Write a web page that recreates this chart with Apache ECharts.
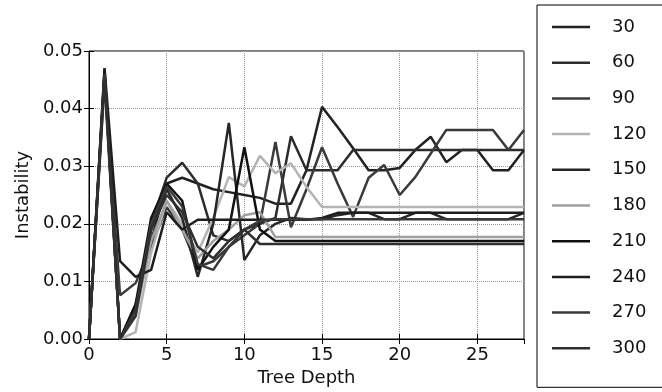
<!DOCTYPE html>
<html lang="en">

<head>
  <meta charset="UTF-8">
  <title>Instability vs Tree Depth</title>
</head>

<body style="margin:0; background:#fff;">

  <div id="main" style="width: 662px; height:392px;"></div>
  <script src="https://cdn.jsdelivr.net/npm/echarts@6/dist/echarts.min.js"></script>
  <script type="text/javascript">
    // depth 0..28
    var depths = [];
    for (var d = 0; d <= 28; d++) depths.push(d);

    var legendNames = ['30', '60', '90', '120', '150', '180', '210', '240', '270', '300'];
    var lineColors = ['#222', '#2c2c2c', '#3a3a3a', '#b4b4b4', '#262626', '#a0a0a0', '#111', '#1e1e1e', '#383838', '#303030'];

    var yTicks = [0, 0.01, 0.02, 0.03, 0.04, 0.05];

    var s30 = [0, 0.046, 0, 0.006, 0.017, 0.027, 0.028, 0.027, 0.026, 0.0255, 0.025, 0.0245, 0.0235, 0.0235, 0.0293, 0.0403, 0.0368, 0.0331, 0.0293, 0.0293, 0.0297, 0.0328, 0.0351, 0.0307, 0.0328, 0.0328, 0.0293, 0.0293, 0.0328];
    var s60 = [0, 0.047, 0, 0.005, 0.020, 0.028, 0.0306, 0.027, 0.018, 0.017, 0.019, 0.020, 0.021, 0.0352, 0.0293, 0.0293, 0.0293, 0.0328, 0.0328, 0.0328, 0.0328, 0.0328, 0.0328, 0.0328, 0.0328, 0.0328, 0.0328, 0.0328, 0.0328];
    var s90 = [0, 0.045, 0.0076, 0.0097, 0.016, 0.0229, 0.019, 0.0125, 0.0135, 0.016, 0.018, 0.020, 0.0342, 0.0194, 0.026, 0.0333, 0.027, 0.0212, 0.028, 0.0302, 0.025, 0.0281, 0.0322, 0.0363, 0.0363, 0.0363, 0.0363, 0.0328, 0.0363];
    var s120 = [0, 0.044, 0, 0.0012, 0.015, 0.024, 0.020, 0.015, 0.021, 0.0281, 0.0265, 0.0318, 0.0288, 0.0305, 0.0264, 0.0229, 0.0229, 0.0229, 0.0229, 0.0229, 0.0229, 0.0229, 0.0229, 0.0229, 0.0229, 0.0229, 0.0229, 0.0229, 0.0229];
    var s150 = [0, 0.046, 0, 0.005, 0.019, 0.026, 0.021, 0.0108, 0.020, 0.0375, 0.0137, 0.018, 0.020, 0.021, 0.0208, 0.0208, 0.0215, 0.0219, 0.0219, 0.0208, 0.0208, 0.0219, 0.0219, 0.0208, 0.0208, 0.0208, 0.0208, 0.0208, 0.0219];
    var s180 = [0, 0.045, 0, 0.004, 0.017, 0.024, 0.019, 0.014, 0.017, 0.019, 0.0215, 0.022, 0.0177, 0.0177, 0.0177, 0.0177, 0.0177, 0.0177, 0.0177, 0.0177, 0.0177, 0.0177, 0.0177, 0.0177, 0.0177, 0.0177, 0.0177, 0.0177, 0.0177];
    var s210 = [0, 0.046, 0, 0.006, 0.021, 0.027, 0.024, 0.012, 0.016, 0.019, 0.0333, 0.019, 0.017, 0.017, 0.017, 0.017, 0.017, 0.017, 0.017, 0.017, 0.017, 0.017, 0.017, 0.017, 0.017, 0.017, 0.017, 0.017, 0.017];
    var s240 = [0, 0.047, 0.0135, 0.0108, 0.012, 0.022, 0.019, 0.0207, 0.0207, 0.0207, 0.0207, 0.0207, 0.0207, 0.0207, 0.0207, 0.021, 0.0219, 0.0219, 0.0219, 0.0219, 0.0219, 0.0219, 0.0219, 0.0219, 0.0219, 0.0219, 0.0219, 0.0219, 0.0219];
    var s270 = [0, 0.046, 0, 0.005, 0.020, 0.0265, 0.023, 0.013, 0.012, 0.016, 0.019, 0.0205, 0.0208, 0.0208, 0.0208, 0.0208, 0.0208, 0.0208, 0.0208, 0.0208, 0.0208, 0.0208, 0.0208, 0.0208, 0.0208, 0.0208, 0.0208, 0.0208, 0.0208];
    var s300 = [0, 0.045, 0, 0.004, 0.019, 0.025, 0.022, 0.016, 0.014, 0.017, 0.019, 0.0165, 0.0165, 0.0165, 0.0165, 0.0165, 0.0165, 0.0165, 0.0165, 0.0165, 0.0165, 0.0165, 0.0165, 0.0165, 0.0165, 0.0165, 0.0165, 0.0165, 0.0165];

    var allSeries = [s30, s60, s90, s120, s150, s180, s210, s240, s270, s300];

    var myChart = echarts.init(document.getElementById('main'));

    var font = 'DejaVu Sans';

    var series = allSeries.map(function (vals, i) {
      return {
        name: legendNames[i],
        type: 'line',
        xAxisIndex: 0,
        yAxisIndex: 0,
        showSymbol: false,
        animation: false,
        color: lineColors[i],
        lineStyle: { width: 2.5, color: lineColors[i] },
        data: vals.map(function (v, j) { return [depths[j], v]; })
      };
    });

    option = {
      animation: false,
      grid: {
        left: 89, right: 138, top: 51, bottom: 53,
        show: true, borderColor: '#000', borderWidth: 1
      },
      legend: {
        orient: 'vertical',
        left: 537,
        top: 5,
        data: legendNames,
        icon: 'rect',
        itemWidth: 38,
        itemHeight: 2.5,
        itemGap: 15.7,
        padding: [12, 60, 29, 15],
        borderColor: '#000',
        borderWidth: 1,
        textStyle: { fontFamily: font, fontSize: 18, color: '#111', lineHeight: 20, padding: [0, 0, 0, 17] }
      },
      xAxis: [{
        type: 'value',
        min: 0, max: 28, interval: 5,
        name: 'Tree Depth',
        nameLocation: 'middle',
        nameGap: 28,
        nameTextStyle: { fontFamily: font, fontSize: 18, color: '#111' },
        axisLine: { show: true, lineStyle: { color: '#000' } },
        axisTick: { inside: true, length: 5, lineStyle: { color: '#000' } },
        axisLabel: { showMaxLabel: false, fontFamily: font, fontSize: 18, color: '#111', margin: 7 },
        splitLine: { show: true, lineStyle: { type: 'dotted', color: '#999' } }
      }, {
        type: 'value',
        position: 'top',
        min: 0, max: 28, interval: 5,
        axisLine: { show: false },
        axisTick: { inside: true, length: 5, lineStyle: { color: '#000' } },
        axisLabel: { show: false },
        splitLine: { show: false }
      }],
      yAxis: [{
        type: 'value',
        min: 0, max: 0.05, interval: 0.01,
        name: 'Instability',
        nameLocation: 'middle',
        nameGap: 53,
        nameTextStyle: { fontFamily: font, fontSize: 18, color: '#111' },
        axisLine: { show: true, lineStyle: { color: '#000' } },
        axisTick: { inside: true, length: 5, lineStyle: { color: '#000' } },
        axisLabel: {
          fontFamily: font, fontSize: 18, color: '#111', margin: 6,
          formatter: function (v) { return v.toFixed(2); }
        },
        splitLine: { show: true, lineStyle: { type: 'dotted', color: '#999' } }
      }, {
        type: 'value',
        position: 'right',
        min: 0, max: 0.05, interval: 0.01,
        axisLine: { show: false },
        axisTick: { show: true, inside: true, length: 5, lineStyle: { color: '#000' } },
        axisLabel: { show: false },
        splitLine: { show: false }
      }],
      series: series
    };
    myChart.setOption(option);
  </script>
</body>

</html>
